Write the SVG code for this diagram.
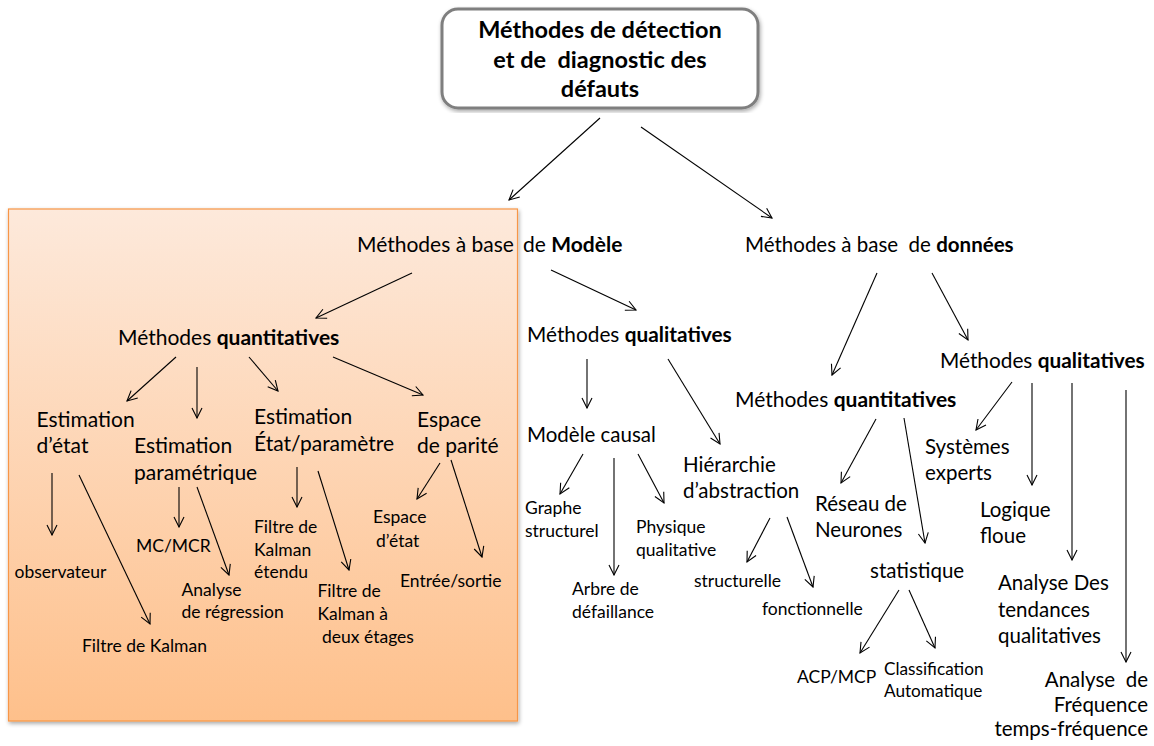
<svg xmlns="http://www.w3.org/2000/svg" width="1154" height="746" viewBox="0 0 1154 746">
<style>
text{font-family:Lato,"Open Sans","Liberation Sans",sans-serif;fill:#000}
.m{font-size:20.5px}
.L{font-size:21px}
.s{font-size:17.5px}
.t{font-size:23.5px}
.b{font-weight:bold}
.c line{stroke:#000;stroke-width:1.1;marker-end:url(#ah)}
</style>
<defs>
<marker id="ah" viewBox="0 0 12 12" refX="11" refY="6" markerWidth="12" markerHeight="12" markerUnits="userSpaceOnUse" orient="auto">
<path d="M1,1 L11,6 L1,11" fill="none" stroke="#000" stroke-width="1.1"/>
</marker>
<linearGradient id="og" x1="0" y1="0" x2="0" y2="1">
<stop offset="0" stop-color="#fde9db"/>
<stop offset="1" stop-color="#fec08b"/>
</linearGradient>
<filter id="sh" x="-5%" y="-5%" width="110%" height="110%">
<feGaussianBlur in="SourceAlpha" stdDeviation="2"/>
<feOffset dx="1" dy="2"/>
<feComponentTransfer><feFuncA type="linear" slope="0.35"/></feComponentTransfer>
<feMerge><feMergeNode/><feMergeNode in="SourceGraphic"/></feMerge>
</filter>
</defs>
<rect width="1154" height="746" fill="#fff"/>
<g id="zone-modele">
<rect x="8.5" y="209" width="509" height="512" fill="url(#og)" stroke="#f79646" stroke-width="1.2" filter="url(#sh)"/>
</g>
<g id="root">
<rect x="442" y="9" width="316" height="99" rx="16" ry="16" fill="#fff" stroke="#7f7f7f" stroke-width="3" filter="url(#sh)"/>
<text class="t b" x="600" y="38" text-anchor="middle">Méthodes de détection</text>
<text class="t b" x="600" y="68" text-anchor="middle" xml:space="preserve">et de  diagnostic des</text>
<text class="t b" x="600" y="97" text-anchor="middle">défauts</text>
</g>
<g class="c" id="connectors">
<line x1="600" y1="118" x2="509" y2="200"/>
<line x1="641" y1="127" x2="772" y2="218"/>
<line x1="412" y1="273" x2="316" y2="318"/>
<line x1="551" y1="270" x2="636" y2="310"/>
<line x1="176" y1="357" x2="127" y2="401"/>
<line x1="197" y1="367" x2="197" y2="418"/>
<line x1="249" y1="357" x2="278" y2="391"/>
<line x1="333" y1="357" x2="423" y2="395"/>
<line x1="52" y1="473" x2="52" y2="535"/>
<line x1="79" y1="475" x2="150" y2="624"/>
<line x1="179" y1="487" x2="179" y2="527"/>
<line x1="197" y1="487" x2="229" y2="575"/>
<line x1="297" y1="467" x2="297" y2="507"/>
<line x1="318" y1="471" x2="349" y2="570"/>
<line x1="440" y1="463" x2="417" y2="499"/>
<line x1="451" y1="460" x2="482" y2="557"/>
<line x1="587" y1="359" x2="587" y2="408"/>
<line x1="668" y1="359" x2="720" y2="444"/>
<line x1="583" y1="454" x2="560" y2="494"/>
<line x1="614" y1="458" x2="614" y2="575"/>
<line x1="638" y1="454" x2="664" y2="503"/>
<line x1="770" y1="518" x2="747" y2="562"/>
<line x1="787" y1="517" x2="813" y2="587"/>
<line x1="877" y1="273" x2="832" y2="375"/>
<line x1="932" y1="273" x2="968" y2="340"/>
<line x1="876" y1="419" x2="841" y2="483"/>
<line x1="904" y1="418" x2="925" y2="543"/>
<line x1="899" y1="590" x2="860" y2="653"/>
<line x1="909" y1="590" x2="935" y2="648"/>
<line x1="1012" y1="382" x2="976" y2="430"/>
<line x1="1032" y1="383" x2="1032" y2="485"/>
<line x1="1072" y1="383" x2="1072" y2="560"/>
<line x1="1126" y1="390" x2="1126" y2="662"/>
</g>
<g id="n-modele"><text class="L" x="357" y="252" xml:space="preserve">Méthodes à base  <tspan x="523">de </tspan><tspan class="b">Modèle</tspan></text></g>
<g id="n-donnees"><text class="m" x="745" y="252" xml:space="preserve">Méthodes à base  de <tspan class="b">données</tspan></text></g>
<g id="n-quanti-m"><text class="L" x="118" y="345">Méthodes <tspan class="b">quantitatives</tspan></text></g>
<g id="n-quali-m"><text class="m" x="527" y="342" style="font-size:20.8px">Méthodes <tspan class="b">qualitatives</tspan></text></g>
<g id="n-quali-d"><text class="m" x="940" y="368" style="font-size:20.8px">Méthodes <tspan class="b">qualitatives</tspan></text></g>
<g id="n-quanti-d"><text class="m" x="735" y="407" style="font-size:21px">Méthodes <tspan class="b">quantitatives</tspan></text></g>
<g id="n-est-etat"><text class="L" x="36.5" y="427">Estimation</text><text class="L" x="36.5" y="453">d’état</text></g>
<g id="n-est-param"><text class="L" x="134" y="453">Estimation</text><text class="L" x="134" y="480">paramétrique</text></g>
<g id="n-est-ep"><text class="L" x="254" y="424">Estimation</text><text class="L" x="254" y="451">État/paramètre</text></g>
<g id="n-parite"><text class="L" x="417" y="427">Espace</text><text class="L" x="417" y="453">de parité</text></g>
<g id="n-obs"><text class="s" x="14.5" y="578">observateur</text></g>
<g id="n-kalman"><text class="s" x="82" y="652">Filtre de Kalman</text></g>
<g id="n-mc"><text class="s" x="136" y="552">MC/MCR</text></g>
<g id="n-regr"><text class="s" x="181.5" y="596">Analyse</text><text class="s" x="181.5" y="618">de régression</text></g>
<g id="n-fke"><text class="s" x="254" y="533">Filtre de</text><text class="s" x="254" y="556">Kalman</text><text class="s" x="254" y="578">étendu</text></g>
<g id="n-fk2"><text class="s" x="317.5" y="597">Filtre de</text><text class="s" x="317.5" y="620">Kalman à</text><text class="s" x="322" y="643">deux étages</text></g>
<g id="n-esp-etat"><text class="s" x="373" y="523">Espace</text><text class="s" x="376" y="547">d’état</text></g>
<g id="n-es"><text class="s" x="400" y="587">Entrée/sortie</text></g>
<g id="n-causal"><text class="m" x="527" y="442">Modèle causal</text></g>
<g id="n-hier"><text class="m" x="683" y="472">Hiérarchie</text><text class="m" x="683" y="498">d’abstraction</text></g>
<g id="n-graphe"><text class="s" x="525" y="514">Graphe</text><text class="s" x="525" y="537">structurel</text></g>
<g id="n-phys"><text class="s" x="636" y="533">Physique</text><text class="s" x="636" y="556">qualitative</text></g>
<g id="n-arbre"><text class="s" x="572" y="595">Arbre de</text><text class="s" x="572" y="618">défaillance</text></g>
<g id="n-struct"><text class="s" x="694" y="587">structurelle</text></g>
<g id="n-fonct"><text class="s" x="762" y="615">fonctionnelle</text></g>
<g id="n-reseau"><text class="m" x="815" y="511">Réseau de</text><text class="m" x="815" y="537">Neurones</text></g>
<g id="n-stat"><text class="m" x="870" y="578">statistique</text></g>
<g id="n-acp"><text class="s" x="797" y="683">ACP/MCP</text></g>
<g id="n-classif"><text class="s" x="884" y="675" style="font-size:17.2px">Classification</text><text class="s" x="884" y="697" style="font-size:17.2px">Automatique</text></g>
<g id="n-se"><text class="m" x="925" y="454">Systèmes</text><text class="m" x="925" y="480">experts</text></g>
<g id="n-logique"><text class="m" x="980" y="517">Logique</text><text class="m" x="980" y="543">floue</text></g>
<g id="n-tend"><text class="m" x="998" y="590">Analyse Des</text><text class="m" x="998" y="617">tendances</text><text class="m" x="998" y="643">qualitatives</text></g>
<g id="n-freq"><text class="m" x="1148" y="687" text-anchor="end" xml:space="preserve">Analyse  de</text><text class="m" x="1148" y="712" text-anchor="end">Fréquence</text><text class="m" x="1148" y="736" text-anchor="end">temps-fréquence</text></g>
</svg>
